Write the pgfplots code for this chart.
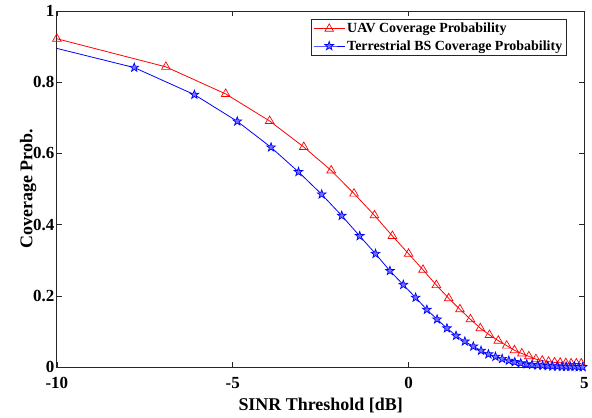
\documentclass[border=0pt]{standalone}
\usepackage{pgfplots}
\pgfplotsset{compat=1.18}
\usepackage{fontspec}
\setmainfont{Liberation Serif}
\usetikzlibrary{plotmarks}

\definecolor{axgray}{rgb}{0.15,0.15,0.15}

% MATLAB-like pentagram marker
\pgfdeclareplotmark{pentagram}{%
  \pgfpathmoveto{\pgfqpointpolar{90}{\pgfplotmarksize}}%
  \pgfpathlineto{\pgfqpointpolar{126}{0.4\pgfplotmarksize}}%
  \pgfpathlineto{\pgfqpointpolar{162}{\pgfplotmarksize}}%
  \pgfpathlineto{\pgfqpointpolar{198}{0.4\pgfplotmarksize}}%
  \pgfpathlineto{\pgfqpointpolar{234}{\pgfplotmarksize}}%
  \pgfpathlineto{\pgfqpointpolar{270}{0.4\pgfplotmarksize}}%
  \pgfpathlineto{\pgfqpointpolar{306}{\pgfplotmarksize}}%
  \pgfpathlineto{\pgfqpointpolar{342}{0.4\pgfplotmarksize}}%
  \pgfpathlineto{\pgfqpointpolar{18}{\pgfplotmarksize}}%
  \pgfpathlineto{\pgfqpointpolar{54}{0.4\pgfplotmarksize}}%
  \pgfpathclose
  \pgfusepathqfillstroke
}

\begin{document}
\begin{tikzpicture}
\begin{axis}[
    scale only axis,
    width=529pt,
    height=357pt,
    xmin=-10, xmax=5,
    ymin=0, ymax=1,
    xtick={-10,-5,0,5},
    xticklabels={-10,-5,0,5},
    ytick={0,0.2,0.4,0.6,0.8,1},
    yticklabels={0,0.2,0.4,0.6,0.8,1},
    tick align=inside,
    major tick length=5pt,
    axis line style={axgray, line width=0.7pt},
    tick style={axgray, line width=0.6pt},
    tick label style={font=\fontsize{17}{19}\selectfont\bfseries},
    xticklabel style={yshift=-7pt},
    yticklabel style={xshift=1pt},
    label style={font=\fontsize{18}{20}\selectfont\bfseries},
    xlabel={SINR Threshold [dB]},
    ylabel={Coverage Prob.},
    xlabel style={yshift=-2pt},
    ylabel style={yshift=-10pt},
    legend style={
        at={(1,1)}, anchor=north east,
        xshift=-18pt, yshift=-8pt,
        font=\fontsize{14}{16}\selectfont\bfseries,
        draw=axgray, line width=0.6pt,
        inner sep=2pt, row sep=2pt,
        cells={anchor=west},
    },
    legend image code/.code={
        \draw[mark repeat=2,mark phase=2]
        plot coordinates {(0cm,0cm) (0.55cm,0cm) (1.1cm,0cm)};
    },
]
\addplot[red, line width=0.8pt, mark=triangle, mark size=5pt,
    mark options={solid, fill=white, line width=0.7pt}] coordinates {
    (-10.00,0.922) (-6.90,0.843) (-5.20,0.767) (-3.95,0.691) (-2.98,0.618)
    (-2.20,0.552) (-1.55,0.487) (-0.97,0.426) (-0.46,0.368) (0.00,0.318)
    (0.41,0.273) (0.79,0.230) (1.14,0.193) (1.46,0.162) (1.76,0.134)
    (2.04,0.109) (2.30,0.090) (2.55,0.074) (2.79,0.060) (3.01,0.047)
    (3.22,0.038) (3.42,0.030) (3.62,0.022) (3.80,0.018) (3.98,0.015)
    (4.15,0.013) (4.31,0.012) (4.47,0.011) (4.62,0.010) (4.77,0.010)
    (4.91,0.010)
};
\addlegendentry{UAV Coverage Probability}
\addplot[blue, line width=0.8pt, mark=pentagram, mark size=4.6pt,
    mark options={solid, fill=blue!55, line width=0.7pt}] coordinates {
    (-10.66,0.911) (-7.80,0.841) (-6.09,0.765) (-4.87,0.690) (-3.91,0.617)
    (-3.13,0.548) (-2.47,0.485) (-1.90,0.425) (-1.39,0.368) (-0.94,0.318)
    (-0.53,0.270) (-0.15,0.231) (0.20,0.195) (0.52,0.161) (0.81,0.134)
    (1.09,0.109) (1.35,0.088) (1.60,0.072) (1.84,0.058) (2.06,0.046)
    (2.27,0.036) (2.47,0.029) (2.66,0.023) (2.85,0.018) (3.02,0.014)
    (3.19,0.011) (3.36,0.008) (3.51,0.006) (3.67,0.005) (3.81,0.004)
    (3.96,0.003) (4.09,0.002) (4.23,0.002) (4.36,0.001) (4.48,0.001)
    (4.60,0.001) (4.72,0.001) (4.84,0.000) (4.95,0.000)
};
\addlegendentry{Terrestrial BS Coverage Probability}
\end{axis}
\path (current axis.south west) +(-57pt,-51pt)
      (current axis.north east) +(6pt,11pt);
\end{tikzpicture}
\end{document}
